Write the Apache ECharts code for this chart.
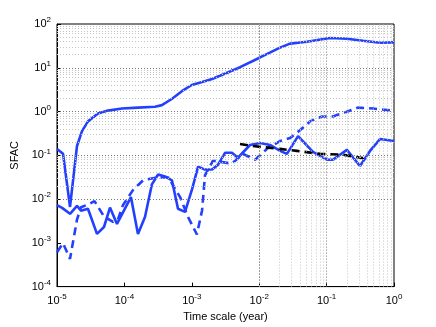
<!DOCTYPE html>
<html>
<head>
<meta charset="utf-8">
<script src="https://cdn.jsdelivr.net/npm/echarts@6/dist/echarts.min.js"></script>
<style>
  html, body { margin: 0; padding: 0; background: #fff; }
  #chart { width: 436px; height: 327px; }
</style>
</head>
<body>
<div id="chart"></div>
<script>
// upper solid curve
const topX = [1e-5, 1.23e-5, 1.56e-5, 1.98e-5, 2.35e-5, 2.88e-5, 4.06e-5, 5.7e-5, 9.2e-5, 1.59e-4,
  2.85e-4, 3.6e-4, 5.1e-4, 7.2e-4, 1.0e-3, 1.42e-3, 2.0e-3, 2.9e-3, 5.2e-3, 1.03e-2,
  2.04e-2, 2.87e-2, 5.1e-2, 0.112, 0.2, 0.347, 0.62, 1];
const topY = [0.14, 0.108, 0.0066, 0.163, 0.356, 0.596, 0.9, 1.05, 1.17, 1.23,
  1.29, 1.4, 1.96, 2.96, 4.04, 4.72, 5.52, 7.0, 10.3, 17.2,
  28.9, 35.6, 39.4, 48, 46, 41.5, 37.4, 38];

// lower solid curve
const lowX = [1e-5, 1.19e-5, 1.56e-5, 1.98e-5, 2.27e-5, 2.88e-5, 3.92e-5, 4.98e-5, 6.11e-5, 7.76e-5,
  1.25e-4, 1.59e-4, 2.02e-4, 2.56e-4, 3.16e-4, 4.0e-4, 5.08e-4, 6.24e-4, 7.93e-4, 1.01e-3,
  1.24e-3, 1.57e-3, 2.0e-3, 2.45e-3, 3.11e-3, 3.94e-3, 4.84e-3, 7.31e-3, 1.03e-2, 1.45e-2,
  2.04e-2, 2.58e-2, 3.77e-2, 6.28e-2, 0.101, 0.124, 0.2, 0.313, 0.441, 0.619, 1];
const lowY = [0.0073, 0.0063, 0.0046, 0.007, 0.0054, 0.006, 0.0016, 0.0023, 0.0064, 0.0027,
  0.0111, 0.0016, 0.0039, 0.0217, 0.0365, 0.0329, 0.0267, 0.006, 0.0051, 0.0168,
  0.0552, 0.0472, 0.0472, 0.0612, 0.114, 0.114, 0.0879, 0.172, 0.191, 0.172,
  0.126, 0.108, 0.274, 0.12, 0.0792, 0.0792, 0.133, 0.057, 0.126, 0.235, 0.212];

// dashed blue curve
const dashX = [1e-5, 1.23e-5, 1.56e-5, 1.98e-5, 2.27e-5, 2.88e-5, 3.6e-5, 4.98e-5, 6.78e-5, 8.0e-5,
  9.5e-5, 1.34e-4, 1.9e-4, 3.0e-4, 4.5e-4, 6.7e-4, 8.8e-4, 1.19e-3, 1.42e-3, 1.57e-3,
  2.06e-3, 3.94e-3, 5.75e-3, 8.67e-3, 1.35e-2, 2.04e-2, 2.86e-2, 4.03e-2, 5.68e-2, 8.55e-2,
  0.124, 0.187, 0.292, 0.488, 1];
const dashY = [0.00061, 0.00098, 0.00043, 0.0034, 0.0065, 0.0075, 0.009, 0.004, 0.003, 0.0034,
  0.0072, 0.016, 0.027, 0.031, 0.031, 0.0111, 0.0039, 0.00155, 0.0055, 0.035,
  0.0752, 0.0645, 0.108, 0.0792, 0.147, 0.212, 0.247, 0.374, 0.596, 0.773,
  0.773, 0.95, 1.23, 1.17, 1.05];

// black dashed fit
const fitX = [5.19e-3, 8.1e-3, 2.04e-2, 3.64e-2, 7.98e-2, 0.175, 0.397];
const fitY = [0.181, 0.163, 0.14, 0.126, 0.108, 0.103, 0.0834];

const xDecades = [1e-5, 1e-4, 1e-3, 1e-2, 1e-1, 1];
const yDecades = [1e-4, 1e-3, 1e-2, 1e-1, 1, 10, 100];

const zip = (xs, ys) => xs.map((x, i) => [x, ys[i]]);

// minor grid positions 2..9 within each decade
const minors = (decs) => {
  const out = [];
  decs.slice(0, -1).forEach(d => { for (let k = 2; k <= 9; k++) out.push(d * k); });
  return out;
};

const blue = '#2340ff';
const font = 'Liberation Sans, Arial, sans-serif';

const expLabel = (v) => {
  const e = Math.round(Math.log10(v));
  return '{b|10}{s|' + e + '}';
};
const labelRich = {
  b: { fontSize: 11, fontFamily: font, color: '#000' },
  s: { fontSize: 8, fontFamily: font, color: '#000', padding: [0, 0, 8, 0] }
};

const gridLines = [];
minors(xDecades).forEach(v => gridLines.push({ xAxis: v, lineStyle: { color: '#c4c4c4' } }));
minors(yDecades).forEach(v => gridLines.push({ yAxis: v, lineStyle: { color: '#c4c4c4' } }));
xDecades.slice(1, -1).forEach(v => gridLines.push({ xAxis: v, lineStyle: { color: '#777' } }));
yDecades.slice(1, -1).forEach(v => gridLines.push({ yAxis: v, lineStyle: { color: '#777' } }));

const chart = echarts.init(document.getElementById('chart'), null, { renderer: 'canvas' });
chart.setOption({
  animation: false,
  backgroundColor: '#fff',
  grid: { left: 57, right: 42, top: 24, bottom: 36, show: true, borderColor: '#000', borderWidth: 1 },
  xAxis: {
    type: 'log', logBase: 10, min: 1e-5, max: 1, splitNumber: 5,
    name: 'Time scale (year)', nameLocation: 'middle', nameGap: 23,
    nameTextStyle: { fontSize: 11, fontFamily: font, color: '#000' },
    axisLine: { lineStyle: { color: '#000' } },
    axisTick: { inside: true, length: 4, lineStyle: { color: '#000' } },
    axisLabel: { formatter: expLabel, rich: labelRich, margin: 6 },
    splitLine: { show: false }
  },
  yAxis: {
    type: 'log', logBase: 10, min: 1e-4, max: 100, splitNumber: 6,
    name: 'SFAC', nameLocation: 'middle', nameGap: 34, nameRotate: 90,
    nameTextStyle: { fontSize: 11, fontFamily: font, color: '#000' },
    axisLine: { lineStyle: { color: '#000' } },
    axisTick: { inside: true, length: 4, lineStyle: { color: '#000' } },
    axisLabel: { formatter: expLabel, rich: labelRich, margin: 6 },
    splitLine: { show: false }
  },
  series: [
    {
      type: 'line', data: [], silent: true,
      markLine: {
        silent: true, symbol: 'none', label: { show: false },
        lineStyle: { type: [1, 2], width: 1 },
        data: gridLines
      }
    },
    {
      type: 'line', data: zip(topX, topY), showSymbol: false,
      lineStyle: { color: blue, width: 2.6 }
    },
    {
      type: 'line', data: zip(lowX, lowY), showSymbol: false,
      lineStyle: { color: blue, width: 2.6 }
    },
    {
      type: 'line', data: zip(dashX, dashY), showSymbol: false,
      lineStyle: { color: blue, width: 2.6, type: [8, 5] }
    },
    {
      type: 'line', data: zip(fitX, fitY), showSymbol: false,
      lineStyle: { color: '#000', width: 2.6, type: [8, 5] }
    }
  ]
});
</script>
</body>
</html>
